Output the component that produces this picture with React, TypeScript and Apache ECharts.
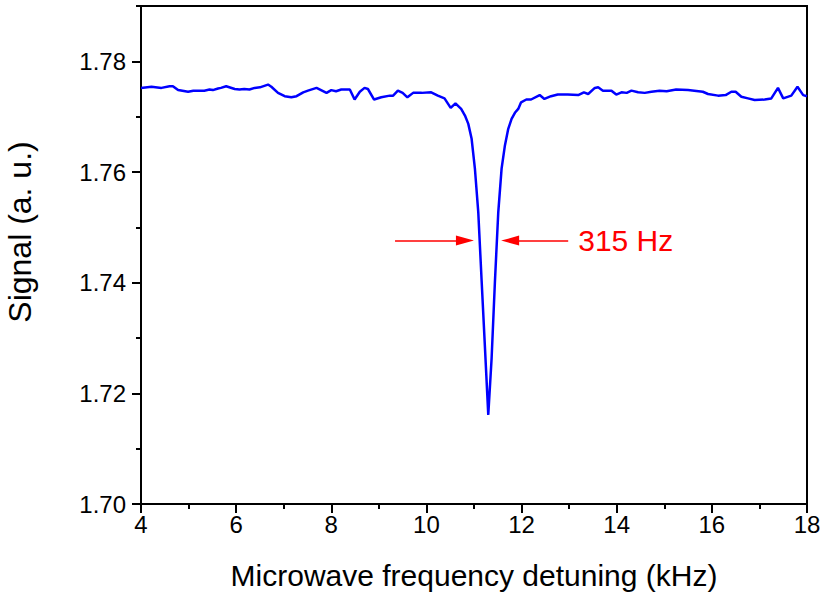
import React, { useEffect, useRef } from "react";
import * as echarts from "echarts";

const freqKHz = [
  4.0, 4.22, 4.43, 4.6, 4.67, 4.78, 4.99, 5.1, 5.33, 5.44, 5.51, 5.62, 5.68, 5.79, 5.97, 6.07, 6.17, 6.28, 6.39, 6.5,
  6.67, 6.74, 6.88, 7.02, 7.16, 7.27, 7.41, 7.51, 7.69, 7.9, 8.0, 8.1, 8.21, 8.39, 8.49, 8.6, 8.7, 8.77, 8.9, 9.05,
  9.23, 9.3, 9.4, 9.5, 9.6, 9.72, 9.9, 10.1, 10.24, 10.38, 10.51, 10.61, 10.73,
  10.81, 10.88, 10.95, 11.02, 11.09, 11.16, 11.23, 11.3, 11.37, 11.44, 11.51, 11.58, 11.65, 11.72, 11.79, 11.86, 11.93,
  11.99, 12.1, 12.2, 12.38, 12.48, 12.62, 12.76, 12.97, 13.19, 13.31, 13.4, 13.54, 13.61, 13.71, 13.89, 13.99, 14.1,
  14.21, 14.31, 14.45, 14.59, 14.73, 14.9, 15.05, 15.25, 15.5, 15.63, 15.81, 15.92, 16.13, 16.29, 16.41, 16.5, 16.62,
  16.76, 16.9, 17.11, 17.25, 17.39, 17.5, 17.67, 17.8, 17.92, 18.0,
];

const signal = [
  1.7752, 1.7754, 1.7752, 1.7755, 1.7755, 1.7748, 1.7745, 1.7747, 1.7747, 1.7749, 1.7748, 1.7751, 1.7752, 1.7755, 1.775, 1.7749, 1.775, 1.7749, 1.7752, 1.7753,
  1.7758, 1.7754, 1.7743, 1.7737, 1.7735, 1.7737, 1.7744, 1.7747, 1.7752, 1.7743, 1.7748, 1.7746, 1.7749, 1.7749, 1.7731, 1.7745, 1.7752, 1.775, 1.7731, 1.7735,
  1.7738, 1.7738, 1.7747, 1.7743, 1.7735, 1.7743, 1.7743, 1.7744, 1.7738, 1.7733, 1.7716, 1.7724, 1.7714,
  1.7702, 1.7687, 1.766, 1.7605, 1.7527, 1.7404, 1.7283, 1.7161, 1.7263, 1.7402, 1.7527, 1.7606, 1.7648, 1.7678, 1.7696, 1.7707, 1.7714,
  1.7726, 1.7731, 1.7731, 1.7739, 1.7732, 1.7737, 1.774, 1.774, 1.7739, 1.7744, 1.7741, 1.7752, 1.7753, 1.7747, 1.7747, 1.774, 1.7744,
  1.7743, 1.7747, 1.7744, 1.7743, 1.7745, 1.7747, 1.7746, 1.7749, 1.7748, 1.7747, 1.7745, 1.7741, 1.7738, 1.7739, 1.7745, 1.7745, 1.7736,
  1.7733, 1.773, 1.7731, 1.7733, 1.7752, 1.7733, 1.7738, 1.7754, 1.7739, 1.7737,
];

const yMajorTicks = [1.7, 1.72, 1.74, 1.76, 1.78];
const yMinorTicks = [1.71, 1.73, 1.75, 1.77, 1.79];

const fwhmLevel = 1.7476;
const leftArrow = [9.34, 10.81];
const rightArrow = [12.98, 11.76];
const fwhmLabel = "315 Hz";

const FONT = "Liberation Sans, Arial, sans-serif";

export default function App() {
  const ref = useRef<HTMLDivElement>(null);
  useEffect(() => {
    if (!ref.current) return;
    const chart = echarts.init(ref.current, null, { renderer: "svg" });
    const data = freqKHz.map((x, i) => [x, signal[i]]);
    chart.setOption({
      animation: false,
      backgroundColor: "#fff",
      textStyle: { fontFamily: FONT },
      grid: {
        left: 141,
        right: 19,
        top: 6,
        bottom: 91,
        outerBoundsMode: "none",
        containLabel: false,
        show: true,
        borderColor: "#000",
        borderWidth: 2,
        backgroundColor: "transparent",
      },
      xAxis: {
        type: "value",
        min: 4,
        max: 18,
        interval: 2,
        name: "Microwave frequency detuning (kHz)",
        nameLocation: "middle",
        nameGap: 56,
        nameTextStyle: { fontSize: 30, color: "#000", fontFamily: FONT },
        axisLine: { show: true, lineStyle: { color: "#000", width: 2 } },
        axisTick: { show: true, inside: false, length: 9, lineStyle: { color: "#000", width: 2 } },
        minorTick: { show: true, splitNumber: 2, length: 5, lineStyle: { color: "#000", width: 2 } },
        axisLabel: { fontSize: 24, color: "#000", margin: 8, fontFamily: FONT },
        splitLine: { show: false },
      },
      yAxis: [
        {
          type: "value",
          min: 1.7,
          max: 1.79,
          name: "Signal (a. u.)",
          nameLocation: "middle",
          nameGap: 105,
          nameTextStyle: { fontSize: 32, color: "#000", fontFamily: FONT, padding: [0, 0, 0, 46] },
          axisLine: { show: true, lineStyle: { color: "#000", width: 2 } },
          axisTick: { show: true, inside: false, length: 9, customValues: yMajorTicks, lineStyle: { color: "#000", width: 2 } },
          axisLabel: {
            fontSize: 24,
            color: "#000",
            margin: 15,
            fontFamily: FONT,
            customValues: yMajorTicks,
            formatter: (v: number) => v.toFixed(2),
          },
          splitLine: { show: false },
        },
        {
          type: "value",
          min: 1.7,
          max: 1.79,
          position: "left",
          axisLine: { show: false },
          axisTick: { show: true, inside: false, length: 5, customValues: yMinorTicks, lineStyle: { color: "#000", width: 2 } },
          axisLabel: { show: false },
          splitLine: { show: false },
        },
      ],
      series: [
        {
          type: "line",
          data,
          yAxisIndex: 0,
          showSymbol: false,
          symbol: "none",
          lineStyle: { color: "#0000FF", width: 2.5 },
          z: 3,
          markLine: {
            silent: true,
            symbol: ["none", "triangle"],
            symbolSize: [10, 18],
            label: { show: false },
            lineStyle: { color: "#FF0000", width: 1.5, type: "solid" },
            emphasis: { disabled: true },
            data: [
              [
                { coord: [leftArrow[0], fwhmLevel], symbol: "none" },
                { coord: [leftArrow[1], fwhmLevel], symbol: "triangle" },
              ],
              [
                { coord: [rightArrow[0], fwhmLevel], symbol: "none" },
                { coord: [rightArrow[1], fwhmLevel], symbol: "triangle" },
              ],
            ],
          },
          markPoint: {
            silent: true,
            symbol: "circle",
            symbolSize: 0,
            data: [
              {
                coord: [rightArrow[0], fwhmLevel],
                label: {
                  show: true,
                  position: "right",
                  distance: 10,
                  formatter: fwhmLabel,
                  color: "#FF0000",
                  fontSize: 30,
                  fontFamily: FONT,
                },
              },
            ],
          },
        },
      ],
    });
    return () => chart.dispose();
  }, []);
  return (
    <div
      ref={ref}
      style={{ position: "fixed", left: 0, top: 0, width: 826, height: 595, background: "#fff" }}
    />
  );
}
